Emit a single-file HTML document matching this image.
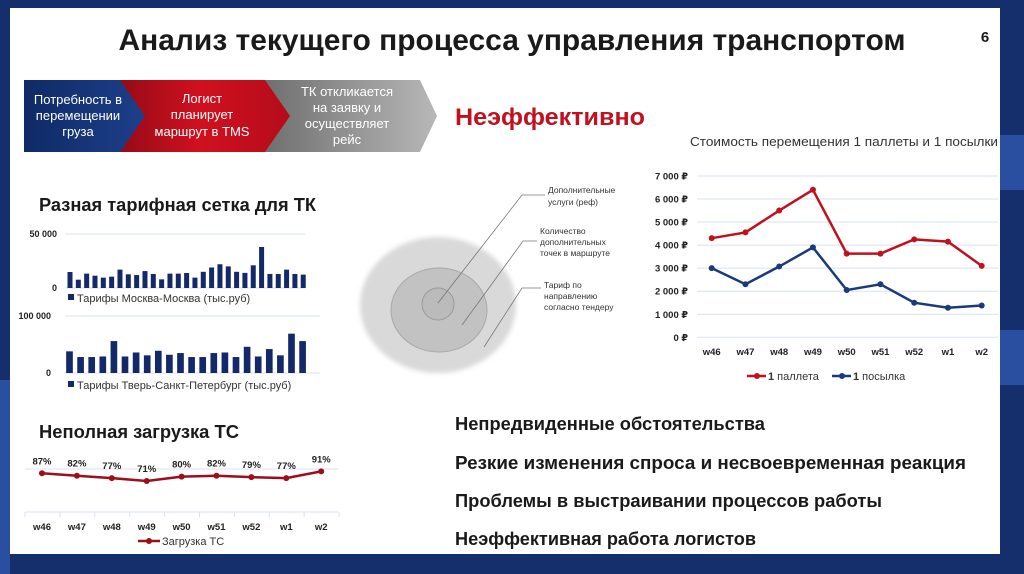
<!DOCTYPE html>
<html><head><meta charset="utf-8"><style>
body{margin:0;width:1024px;height:574px;overflow:hidden;background:#142f6b;font-family:"Liberation Sans","DejaVu Sans",sans-serif}
svg{position:absolute;left:0;top:0}
</style></head><body>
<svg width="1024" height="574" viewBox="0 0 1024 574" xmlns="http://www.w3.org/2000/svg">
<defs>
<linearGradient id="gb" x1="0" x2="1"><stop offset="0" stop-color="#0f2a66"/><stop offset="1" stop-color="#1d3f8a"/></linearGradient>
<linearGradient id="gr" x1="0" x2="1"><stop offset="0" stop-color="#8e0a15"/><stop offset="0.5" stop-color="#d0101f"/><stop offset="1" stop-color="#b50c1a"/></linearGradient>
<linearGradient id="gg" x1="0" x2="1"><stop offset="0" stop-color="#6b6b6b"/><stop offset="1" stop-color="#b8b8b8"/></linearGradient>
<filter id="bl"><feGaussianBlur stdDeviation="2.5"/></filter>
</defs>
<rect x="1000" y="135" width="24" height="55" fill="#2a4fa0"/>
<rect x="1000" y="330" width="24" height="55" fill="#2a4fa0"/>
<rect x="0" y="380" width="10" height="194" fill="#2a4fa0"/>
<rect x="10" y="8" width="990" height="546" fill="#fff"/>
<text x="512" y="50" text-anchor="middle" font-size="30" font-weight="bold" fill="#1a1a1a" textLength="787" lengthAdjust="spacingAndGlyphs">Анализ текущего процесса управления транспортом</text>
<text x="985" y="42" text-anchor="middle" font-size="15" font-weight="bold" fill="#1a1a1a">6</text>

<g>
<polygon points="255,80 420,80 437,116 420,152 255,152 272,116" fill="url(#gg)"/>
<polygon points="110,80 265,80 290,116 265,152 110,152 127,116" fill="url(#gr)"/>
<polygon points="24,80 120,80 145,116 120,152 24,152" fill="url(#gb)"/>
<g fill="#fff" font-size="13" text-anchor="middle">
<text x="78" y="104">Потребность в</text><text x="78" y="120">перемещении</text><text x="78" y="136">груза</text>
<text x="202" y="103">Логист</text><text x="202" y="119">планирует</text><text x="202" y="136">маршрут в TMS</text>
<text x="347" y="96">ТК откликается</text><text x="347" y="112">на заявку и</text><text x="347" y="128">осуществляет</text><text x="347" y="144">рейс</text>
</g></g>
<text x="455" y="125" font-size="24" font-weight="bold" fill="#c0111e" textLength="190" lengthAdjust="spacingAndGlyphs">Неэффективно</text>

<text x="39" y="211" font-size="18" font-weight="bold" fill="#1a1a1a" textLength="277" lengthAdjust="spacingAndGlyphs">Разная тарифная сетка для ТК</text>
<text x="39" y="438" font-size="18" font-weight="bold" fill="#1a1a1a" textLength="200" lengthAdjust="spacingAndGlyphs">Неполная загрузка ТС</text>

<g>
<ellipse cx="438" cy="305" rx="78" ry="68" fill="#d9d9d9" filter="url(#bl)"/>
<ellipse cx="439" cy="310" rx="48" ry="42" fill="#c2c2c2" stroke="#a8a8a8"/>
<circle cx="438" cy="304" r="16" fill="#bbb" stroke="#999"/>
<g stroke="#777" stroke-width="0.8" fill="none">
<polyline points="438,303 522,195 545,195"/><polyline points="462,325 523,241 537,241"/><polyline points="484,347 522,288 541,288"/>
</g>
<g font-size="8.5" fill="#333">
<text x="548" y="193">Дополнительные</text><text x="548" y="205">услуги (реф)</text>
<text x="540" y="234">Количество</text><text x="540" y="245">дополнительных</text><text x="540" y="256">точек в маршруте</text>
<text x="544" y="288">Тариф по</text><text x="544" y="299">направлению</text><text x="544" y="310">согласно тендеру</text>
</g></g>

<g font-size="18.5" font-weight="bold" fill="#1a1a1a">
<text x="455" y="430" textLength="310" lengthAdjust="spacingAndGlyphs">Непредвиденные обстоятельства</text>
<text x="455" y="469" textLength="511" lengthAdjust="spacingAndGlyphs">Резкие изменения спроса и несвоевременная реакция</text>
<text x="455" y="507" textLength="427" lengthAdjust="spacingAndGlyphs">Проблемы в выстраивании процессов работы</text>
<text x="455" y="545" textLength="301" lengthAdjust="spacingAndGlyphs">Неэффективная работа логистов</text>
</g>

<text x="844" y="146" text-anchor="middle" font-size="13" fill="#333" textLength="308" lengthAdjust="spacingAndGlyphs">Стоимость перемещения 1 паллеты и 1 посылки</text>
<g id="cost"></g>
<g id="bars1"></g>
<g id="bars2"></g>
<g id="load"></g>
</svg>
<script>
const weeks=["w46","w47","w48","w49","w50","w51","w52","w1","w2"];
const pallet=[4300,4550,5500,6400,3630,3630,4250,4150,3100];
const parcel=[3000,2300,3070,3900,2050,2300,1500,1280,1380];
const costTicks=[0,1000,2000,3000,4000,5000,6000,7000];
const moscow=[14.8,7.7,13.3,11.4,9.6,10.5,17,12.7,12,15.7,13,8,13.3,13.3,13.9,9.6,15,19,22,20,15,14,21,38,13,13,17,13,12.4];
const tver=[38,28,28,29,56,29,36,31,39,32,35,28,28,35,36,28,46,29,42,31,69,56];
const loadPct=[87,82,77,71,80,82,79,77,91];
const NS="http://www.w3.org/2000/svg";
function mk(p,t,a){const e=document.createElementNS(NS,t);for(const k in a)e.setAttribute(k,a[k]);p.appendChild(e);return e;}
function fmt(v){return String(v).replace(/\B(?=(\d{3})+(?!\d))/g," ");}
(function(){
const g=document.getElementById('cost');
const y=v=>337.3-v*0.02305, x=i=>711.7+i*33.75;
costTicks.forEach(t=>{
const l=mk(g,'line',{x1:697,x2:998,y1:y(t),y2:y(t),stroke:'#d9e1f2','stroke-width':1});


const tx=mk(g,'text',{x:688,y:y(t)+3.5,'text-anchor':'end','font-size':9.5,'font-weight':'bold',fill:'#222'});tx.textContent=fmt(t)+" ₽";


});
weeks.forEach((w,i)=>{const t=mk(g,'text',{x:x(i),y:355,'text-anchor':'middle','font-size':9.5,'font-weight':'bold',fill:'#222'});t.textContent=w;

});
[[pallet,'#c0111e','pallet'],[parcel,'#1a3a7c','parcel']].forEach(([d,c,n])=>{
const p=mk(g,'polyline',{points:d.map((v,i)=>x(i)+','+y(v)).join(' '),fill:'none',stroke:c,'stroke-width':2.5});


d.forEach((v,i)=>{const c2=mk(g,'circle',{cx:x(i),cy:y(v),r:3,fill:c});

});
});
[[747,'#c0111e','1 паллета'],[832,'#1a3a7c','1 посылка']].forEach(([lx,c,s])=>{
const lg=mk(g,'g',{});


mk(lg,'line',{x1:lx,x2:lx+19,y1:376,y2:376,stroke:c,'stroke-width':2.5});
mk(lg,'circle',{cx:lx+10,cy:376,r:3,fill:c});
const t=mk(lg,'text',{x:lx+21,y:380,'font-size':11,fill:'#333'});t.innerHTML='<tspan font-weight="bold">'+s.split(' ')[0]+'</tspan> '+s.split(' ')[1];
});
})();
function bars(id,data,max,base,top,x0,step,gx2,lab,legY,legText){
const g=document.getElementById(id);
const y=v=>base-(v/max)*(base-top);
[[0,'0'],[max,fmt(max*1000)]].forEach(([v,s])=>{
const l=mk(g,'line',{x1:65,x2:gx2,y1:y(v),y2:y(v),stroke:'#d9e1f2'});


const t=mk(g,'text',{x:lab,y:y(v)+3,'text-anchor':'end','font-size':9,'font-weight':'bold',fill:'#222'});t.textContent=s;


});
const w=step*0.6;
data.forEach((v,i)=>{const r=mk(g,'rect',{x:x0+i*step-w/2,y:y(v),width:w,height:base-y(v),fill:'#13296a'});

});
const s=mk(g,'rect',{x:68,y:legY-8,width:6,height:6,fill:'#13296a'});


const t=mk(g,'text',{x:77,y:legY,'font-size':11,fill:'#333'});t.textContent=legText;


}
bars('bars1',moscow,50,288,234,70,8.33,305,57,302,'Тарифы Москва-Москва (тыс.руб)');
bars('bars2',tver,100,373,316,69.5,11.1,320,51,389,'Тарифы Тверь-Санкт-Петербург (тыс.руб)');
(function(){
const g=document.getElementById('load');
const x=i=>42+i*34.9, y=v=>473.3-(v-87)*0.48;
mk(g,'line',{x1:25,x2:338,y1:469,y2:469,stroke:'#d9e1f2'});
mk(g,'line',{x1:25,x2:338,y1:512,y2:512,stroke:'#d9e1f2'});
for(let i=0;i<=9;i++)mk(g,'line',{x1:25+i*34.9,x2:25+i*34.9,y1:512,y2:517,stroke:'#d9e1f2'});
const p=mk(g,'polyline',{points:loadPct.map((v,i)=>x(i)+','+y(v)).join(' '),fill:'none',stroke:'#9b0f1a','stroke-width':2.5});


loadPct.forEach((v,i)=>{
const c=mk(g,'circle',{cx:x(i),cy:y(v),r:3,fill:'#9b0f1a'});


const t=mk(g,'text',{x:x(i),y:y(v)-9,'text-anchor':'middle','font-size':9.5,'font-weight':'bold',fill:'#222'});t.textContent=v+'%';


const w=mk(g,'text',{x:x(i),y:530,'text-anchor':'middle','font-size':9.5,'font-weight':'bold',fill:'#222'});w.textContent=weeks[i];


});
mk(g,'line',{x1:138,x2:160,y1:541,y2:541,stroke:'#9b0f1a','stroke-width':2.5});
mk(g,'circle',{cx:149,cy:541,r:3,fill:'#9b0f1a'});
const t=mk(g,'text',{x:162,y:545,'font-size':11,fill:'#333'});t.textContent='Загрузка ТС';


})();
</script>
</body></html>
